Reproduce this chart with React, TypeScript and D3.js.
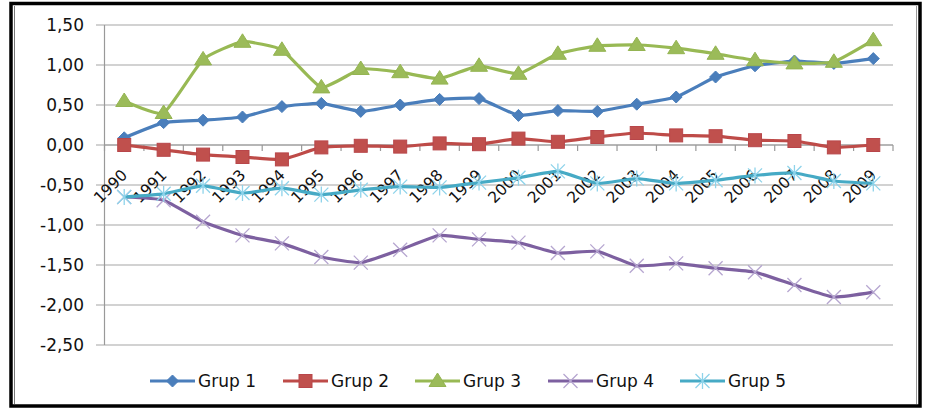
import React from "react";
import * as d3 from "d3";

const years = ["1990","1991","1992","1993","1994","1995","1996","1997","1998","1999","2000","2001","2002","2003","2004","2005","2006","2007","2008","2009"];
const grup1 = [0.09, 0.28, 0.31, 0.35, 0.48, 0.52, 0.42, 0.50, 0.57, 0.58, 0.37, 0.43, 0.42, 0.51, 0.60, 0.85, 0.99, 1.05, 1.02, 1.08];
const grup2 = [0.00, -0.06, -0.12, -0.15, -0.18, -0.03, -0.01, -0.02, 0.02, 0.01, 0.08, 0.04, 0.10, 0.15, 0.12, 0.11, 0.06, 0.05, -0.03, 0.00];
const grup3 = [0.55, 0.40, 1.07, 1.29, 1.19, 0.72, 0.95, 0.91, 0.83, 0.99, 0.89, 1.14, 1.24, 1.25, 1.21, 1.14, 1.06, 1.02, 1.04, 1.31];
const grup4 = [-0.65, -0.69, -0.96, -1.13, -1.23, -1.40, -1.47, -1.31, -1.13, -1.18, -1.22, -1.35, -1.33, -1.51, -1.48, -1.54, -1.59, -1.75, -1.90, -1.84];
const grup5 = [-0.65, -0.61, -0.51, -0.60, -0.54, -0.62, -0.56, -0.52, -0.53, -0.47, -0.41, -0.33, -0.48, -0.42, -0.48, -0.44, -0.38, -0.35, -0.45, -0.48];
const yTicks = [1.5, 1.0, 0.5, 0.0, -0.5, -1.0, -1.5, -2.0, -2.5];
const seriesNames = ["Grup 1", "Grup 2", "Grup 3", "Grup 4", "Grup 5"];
const seriesValues = [grup1, grup2, grup3, grup4, grup5];
const lineColors = ["#4A7EBB", "#BE4B48", "#98B954", "#7D60A0", "#46AAC5"];
const markerTypes = ["diamond", "square", "triangle", "x", "star"];
const legendX = [150, 283, 415, 548, 680];

const W = 925, H = 410;
const left = 104.5, right = 893, top = 25, bottom = 345;

const fmt = (v: number) => v.toFixed(2).replace(".", ",");

function Marker({ type, x, y }: { type: string; x: number; y: number }) {
  if (type === "diamond") {
    const s = 6;
    return <path d={`M${x},${y - s}L${x + s},${y}L${x},${y + s}L${x - s},${y}Z`} fill="#4A7EBB" stroke="#4A7EBB" strokeWidth={1} />;
  }
  if (type === "square") {
    const s = 6.5;
    return <rect x={x - s} y={y - s} width={2 * s} height={2 * s} fill="#C0504D" stroke="#B8464A" strokeWidth={1} />;
  }
  if (type === "triangle") {
    return <path d={`M${x},${y - 8}L${x + 8.5},${y + 5.5}L${x - 8.5},${y + 5.5}Z`} fill="#9BBB59" stroke="#94B452" strokeWidth={1} />;
  }
  if (type === "x") {
    const s = 7;
    return <path d={`M${x - s},${y - s}L${x + s},${y + s}M${x - s},${y + s}L${x + s},${y - s}`} stroke="#B6A6D0" strokeWidth={1.3} fill="none" />;
  }
  const s = 7;
  return <path d={`M${x - s},${y - s}L${x + s},${y + s}M${x - s},${y + s}L${x + s},${y - s}M${x},${y - s - 1}L${x},${y + s + 1}`} stroke="#8ED3EA" strokeWidth={1.3} fill="none" />;
}

export default function App() {
  const x = d3.scaleBand<string>().domain(years).range([left, right]).padding(0);
  const bw = x.bandwidth();
  const cx = (yr: string) => (x(yr) as number) + bw / 2;
  const y = d3.scaleLinear().domain([-2.5, 1.5]).range([bottom, top]);
  const line = d3.line<number>()
    .x((_, i) => cx(years[i]))
    .y((d) => y(d))
    .curve(d3.curveCardinal.tension(0.55));
  const y0 = y(0);
  const font = "'DejaVu Sans', Verdana, sans-serif";

  return (
    <svg width={W} height={H} style={{ position: "absolute", left: 0, top: 0, background: "#fff" }} fontFamily={font}>
      <rect x={0} y={0} width={W} height={H} fill="#fff" />
      <rect x={11} y={3.5} width={909} height={402.5} fill="#fff" stroke="#000" strokeWidth={3.5} />
      <line x1={14.5} y1={6} x2={14.5} y2={404} stroke="#777" strokeWidth={1} />
      <line x1={916.5} y1={6} x2={916.5} y2={404} stroke="#999" strokeWidth={1} />
      {/* gridlines */}
      {yTicks.map((t) => (
        <line key={"g" + t} x1={96} x2={right} y1={y(t)} y2={y(t)} stroke="#A6A6A6" strokeWidth={1.2} />
      ))}
      {/* y axis */}
      <line x1={left} x2={left} y1={top} y2={bottom} stroke="#999" strokeWidth={1.2} />
      {yTicks.map((t) => (
        <text key={"t" + t} x={84} y={y(t)} dy="0.36em" textAnchor="end" fontSize={17} fill="#111">{fmt(t)}</text>
      ))}
      {/* x axis */}
      <line x1={left} x2={right} y1={y0} y2={y0} stroke="#999" strokeWidth={1.2} />
      {d3.range(years.length + 1).map((i) => (
        <line key={"xt" + i} x1={left + i * bw} x2={left + i * bw} y1={y0} y2={y0 + 6} stroke="#999" strokeWidth={1.2} />
      ))}
      {years.map((yr) => (
        <text key={"xl" + yr} transform={`translate(${cx(yr) + 4},${y0 + 31}) rotate(-45)`} textAnchor="end" fontSize={15.5} fill="#111">{yr}</text>
      ))}
      {/* series */}
      {seriesValues.map((vals, si) => (
        <g key={"s" + si}>
          <path d={line(vals) as string} fill="none" stroke={lineColors[si]} strokeWidth={3.2} strokeLinejoin="round" />
          {vals.map((v, i) => (
            <Marker key={i} type={markerTypes[si]} x={cx(years[i])} y={y(v)} />
          ))}
        </g>
      ))}
      {/* legend */}
      {seriesNames.map((n, i) => (
        <g key={"lg" + i}>
          <line x1={legendX[i]} x2={legendX[i] + 45} y1={381} y2={381} stroke={lineColors[i]} strokeWidth={3.2} />
          <Marker type={markerTypes[i]} x={legendX[i] + 22.5} y={381} />
          <text x={legendX[i] + 48} y={387} fontSize={17} fill="#111">{n}</text>
        </g>
      ))}
    </svg>
  );
}
